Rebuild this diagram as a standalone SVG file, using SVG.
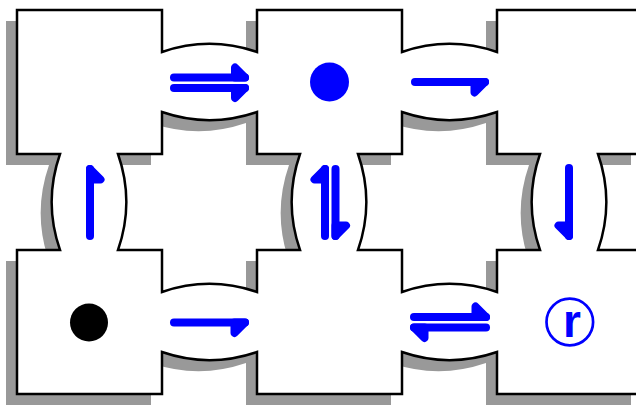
<svg xmlns="http://www.w3.org/2000/svg" width="636" height="407" viewBox="0 0 636 407">
  <style>
    .arr { fill: none; stroke: #0000ff; stroke-width: 8; stroke-linecap: round; stroke-linejoin: round; }
    .head { fill: #0000ff; stroke: #0000ff; stroke-width: 8; stroke-linejoin: round; }
    .wall { fill: #ffffff; stroke: #000000; stroke-width: 2.5; fill-rule: evenodd; stroke-linejoin: miter; }
    .shadow { fill: #999999; stroke: none; fill-rule: evenodd; }
  </style>
  <defs>
    <path id="plan" d="M 17 10 H 162 V 52 A 146 146 0 0 1 257 52 V 10 H 402 V 52 A 146 146 0 0 1 497 52 V 10 H 642 V 154 H 598 A 146 146 0 0 1 598 250 H 642 V 394 H 497 V 352 A 146 146 0 0 1 402 352 V 394 H 257 V 352 A 146 146 0 0 1 162 352 V 394 H 17 V 250 H 60 A 146 146 0 0 1 60 154 H 17 Z
      M 118 154 H 162 V 112 A 146 146 0 0 0 257 112 V 154 H 300 A 146 146 0 0 0 300 250 H 257 V 292 A 146 146 0 0 0 162 292 V 250 H 118 A 146 146 0 0 0 118 154 Z
      M 358 154 H 402 V 112 A 146 146 0 0 0 497 112 V 154 H 540 A 146 146 0 0 0 540 250 H 497 V 292 A 146 146 0 0 0 402 292 V 250 H 358 A 146 146 0 0 0 358 154 Z"/>
  </defs>
  <g id="rooms">
    <use href="#plan" class="shadow" transform="translate(-11,11)"/>
    <use href="#plan" class="wall"/>
  </g>
  <g id="connectors">
    <path class="arr" d="M 174 77.5 H 245"/>
    <path class="head" d="M 245 77.5 L 235 67.5 L 235 77.5 Z"/>
    <path class="arr" d="M 174 88 H 245"/>
    <path class="head" d="M 245 88 L 235 98 L 235 88 Z"/>
    <path class="arr" d="M 415 82 H 485"/>
    <path class="head" d="M 485 82 L 474.5 92.5 L 474.5 82 Z"/>
    <path class="arr" d="M 174 322.5 H 245"/>
    <path class="head" d="M 245 322.5 L 234.5 333 L 234.5 322.5 Z"/>
    <path class="arr" d="M 414 317 H 486"/>
    <path class="head" d="M 486 317 L 475.5 306.5 L 475.5 317 Z"/>
    <path class="arr" d="M 486 327.5 H 414"/>
    <path class="head" d="M 414 327.5 L 424.5 338 L 424.5 327.5 Z"/>
    <path class="arr" d="M 90 236 V 169"/>
    <path class="head" d="M 90 169 L 100.5 179.5 L 90 179.5 Z"/>
    <path class="arr" d="M 325 236 V 169"/>
    <path class="head" d="M 325 169 L 314.5 179.5 L 325 179.5 Z"/>
    <path class="arr" d="M 335.5 169 V 236"/>
    <path class="head" d="M 335.5 236 L 346 225.5 L 335.5 225.5 Z"/>
    <path class="arr" d="M 569 168 V 236"/>
    <path class="head" d="M 569 236 L 558.5 225.5 L 569 225.5 Z"/>
  </g>
  <g id="token-black">
    <circle cx="89" cy="322.5" r="19" fill="#000000"/>
  </g>
  <g id="token-blue">
    <circle cx="329.5" cy="82" r="19.5" fill="#0000ff"/>
  </g>
  <g id="marker-r">
    <circle cx="569.8" cy="322" r="23.3" fill="none" stroke="#0000ff" stroke-width="2.7"/>
    <text x="572" y="337" font-family="Liberation Sans, Arial, sans-serif" font-weight="bold" font-size="46" fill="#0000ff" text-anchor="middle">r</text>
  </g>
</svg>
